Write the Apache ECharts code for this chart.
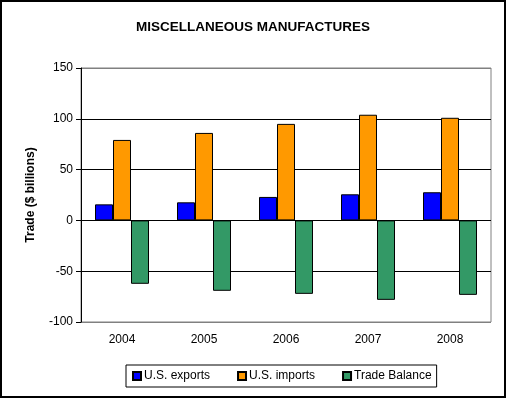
<!DOCTYPE html>
<html>
<head>
<meta charset="utf-8">
<script src="https://cdn.jsdelivr.net/npm/echarts@6/dist/echarts.min.js"></script>
<style>
html, body { margin: 0; padding: 0; background: #fff; }
#chart { width: 506px; height: 398px; }
</style>
</head>
<body>
<div id="chart"></div>
<script>
var years = ['2004', '2005', '2006', '2007', '2008'];
var exportsData = [15.8, 17.8, 23.1, 25.7, 27.7];
var importsData = [79.2, 86.1, 95.0, 104.0, 101.0];
var balanceData = [-62.4, -69.3, -72.3, -78.2, -73.3];

var font = 'Liberation Sans, Arial, sans-serif';
var barBorder = { borderColor: '#000', borderWidth: 1 };

var myChart = echarts.init(document.getElementById('chart'));
var option = {
    animation: false,
    backgroundColor: '#fff',
    title: {
        text: 'MISCELLANEOUS MANUFACTURES',
        left: 'center',
        top: 15,
        textStyle: { fontFamily: font, fontSize: 13.5, fontWeight: 'bold', color: '#000' }
    },
    graphic: [{
        type: 'rect',
        shape: { x: 1, y: 1, width: 504, height: 396 },
        style: { fill: null, stroke: '#000', lineWidth: 2 },
        silent: true
    }],
    legend: {
        data: ['U.S. exports', 'U.S. imports', 'Trade Balance'],
        left: 126,
        top: 365,
        width: 318,
        itemWidth: 8,
        itemHeight: 8,
        itemGap: 27,
        padding: [5, 5, 5, 6],
        borderColor: '#000',
        borderWidth: 1,
        icon: 'rect',
        textStyle: { fontFamily: font, fontSize: 12, color: '#000', padding: [0, 0, 0, -2] }
    },
    grid: {
        left: 81,
        right: 15,
        top: 68,
        bottom: 76,
        show: true,
        borderColor: '#808080',
        borderWidth: 1
    },
    xAxis: {
        type: 'category',
        data: years,
        axisLine: { show: false },
        axisTick: { show: false },
        axisLabel: { fontFamily: font, fontSize: 12, color: '#000', margin: 12 }
    },
    yAxis: {
        type: 'value',
        min: -100,
        max: 150,
        interval: 50,
        name: 'Trade ($ billions)',
        nameLocation: 'middle',
        nameGap: 44,
        nameTextStyle: { fontFamily: font, fontSize: 12, fontWeight: 'bold', color: '#000' },
        axisLine: { show: true, lineStyle: { color: '#000', width: 1 } },
        axisTick: { show: true, length: 5, lineStyle: { color: '#000' } },
        axisLabel: { fontFamily: font, fontSize: 12, color: '#000', margin: 8 },
        splitLine: {
            show: true,
            lineStyle: { color: ['#808080', '#000', '#000', '#000', '#000', '#808080'], width: 1 }
        }
    },
    series: [{
        name: 'U.S. exports',
        type: 'bar',
        data: exportsData,
        color: '#0000ff',
        barWidth: 18,
        barGap: '0%',
        itemStyle: barBorder
    }, {
        name: 'U.S. imports',
        type: 'bar',
        data: importsData,
        color: '#ff9900',
        barWidth: 18,
        barGap: '0%',
        itemStyle: barBorder
    }, {
        name: 'Trade Balance',
        type: 'bar',
        data: balanceData,
        color: '#339966',
        barWidth: 18,
        barGap: '0%',
        itemStyle: barBorder
    }]
};
myChart.setOption(option);

window.addEventListener('resize', function () {
    myChart.resize();
});
</script>
</body>
</html>
